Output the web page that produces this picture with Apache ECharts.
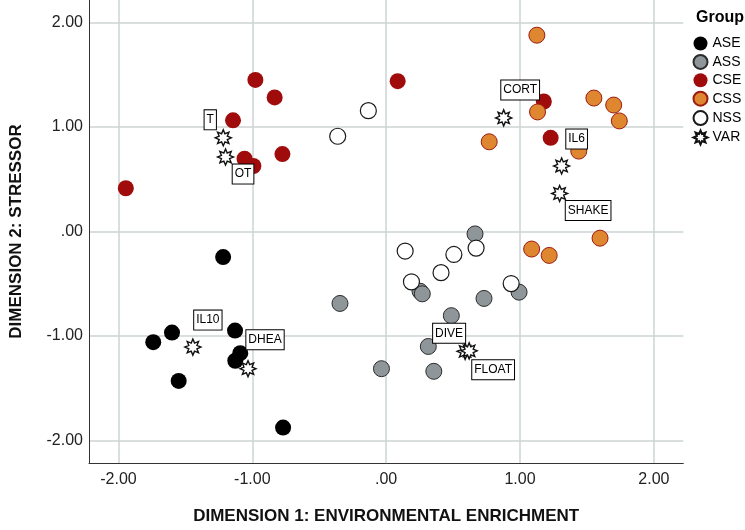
<!DOCTYPE html>
<html>
<head>
<meta charset="utf-8">
<script src="https://cdn.jsdelivr.net/npm/echarts@6/dist/echarts.min.js"></script>
<style>
html,body{margin:0;padding:0;background:#fff;}
#chart{width:745px;height:530px;}
</style>
</head>
<body>
<div id="chart"></div>
<script>
// ---- data ----
const groups = ['ASE', 'ASS', 'CSE', 'CSS', 'NSS', 'VAR'];
const tickValues = [-2, -1, 0, 1, 2];

const ase = [[-1.218,-0.245],[-1.60,-0.968],[-1.74,-1.06],[-1.129,-0.949],[-1.09,-1.165],[-1.127,-1.238],[-1.55,-1.431],[-0.77,-1.878]];
const ass = [[0.664,-0.023],[0.253,-0.572],[0.27,-0.597],[-0.345,-0.689],[0.731,-0.641],[0.993,-0.581],[0.487,-0.806],[0.315,-1.101],[-0.035,-1.314],[0.356,-1.339]];
const cse = [[-0.977,1.452],[-0.833,1.284],[-1.144,1.065],[-1.058,0.697],[-0.992,0.627],[-0.775,0.741],[0.086,1.44],[-1.945,0.414],[1.178,1.245],[1.229,0.897]];
const css = [[1.126,1.88],[1.131,1.145],[1.552,1.278],[1.70,1.211],[1.742,1.059],[0.77,0.859],[1.439,0.77],[1.598,-0.064],[1.087,-0.168],[1.218,-0.229]];
const nss = [[-0.133,1.157],[-0.362,0.912],[0.142,-0.187],[0.506,-0.22],[0.672,-0.159],[0.41,-0.394],[0.189,-0.482],[0.934,-0.499]];
const varNames = ['T','OT','CORT','IL6','SHAKE','IL10','DHEA','DIVE','FLOAT'];
const varPoints = [[-1.217,0.897],[-1.20,0.713],[0.878,1.088],[1.311,0.627],[1.296,0.364],[-1.444,-1.107],[-1.032,-1.314],[0.59,-1.148],[0.62,-1.143]];

// ---- layout / style (not data) ----
const labelOffsets = {
  T:[-13,-18], OT:[17.5,17], CORT:[16.5,-28], IL6:[15,-27], SHAKE:[28.5,17],
  IL10:[15,-27], DHEA:[17,-29], DIVE:[-16,-18], FLOAT:[24,19]
};
const FONT = 'Liberation Sans, Arial, sans-serif';
const STAR = 'path://M10,0L12.1,4.92L17.07,2.93L15.08,7.9L20,10L15.08,12.1L17.07,17.07L12.1,15.08L10,20L7.9,15.08L2.93,17.07L4.92,12.1L0,10L4.92,7.9L2.93,2.93L7.9,4.92Z';

function fmt(v){ return v === 0 ? '.00' : v.toFixed(2); }

const styles = {
  ASE:{color:'#000000', borderColor:'#000000', borderWidth:0, opacity:1},
  ASS:{color:'#8f9699', borderColor:'#2b2b2b', borderWidth:1, opacity:1},
  CSE:{color:'#a00c0c', borderColor:'#a00c0c', borderWidth:0, opacity:1},
  CSS:{color:'#de8630', borderColor:'#9c1c10', borderWidth:1, opacity:1},
  NSS:{color:'#ffffff', borderColor:'#1a1a1a', borderWidth:1.2, opacity:1}
};
const circleData = {ASE:ase, ASS:ass, CSE:cse, CSS:css, NSS:nss};

const series = ['ASE','ASS','CSE','CSS','NSS'].map(g => ({
  name:g, type:'scatter', symbol:'circle', symbolSize:16,
  itemStyle:styles[g], data:circleData[g], emphasis:{disabled:true}
}));
series.push({
  name:'VAR', type:'scatter', symbol:STAR, symbolSize:16, z:5,
  itemStyle:{color:'#ffffff', borderColor:'#111111', borderWidth:1.4, opacity:1},
  data: varPoints.map((p,i) => ({
    value:p, name:varNames[i],
    label:{offset:labelOffsets[varNames[i]]}
  })),
  label:{
    show:true, position:'inside', formatter:'{b}',
    fontFamily:FONT, fontSize:12, color:'#000', lineHeight:14,
    backgroundColor:'#ffffff', borderColor:'#000000', borderWidth:1,
    padding:[3,2,2,2]
  },
  emphasis:{disabled:true}
});

const chart = echarts.init(document.getElementById('chart'), null, {renderer:'canvas'});
chart.setOption({
  backgroundColor:'#ffffff',
  animation:false,
  title:{
    text:'Group', left:691, top:5,
    textStyle:{fontFamily:FONT, fontSize:16, fontWeight:'bold', color:'#000'}
  },
  legend:{
    orient:'vertical', left:692.5, top:36.5, padding:0,
    itemWidth:14, itemHeight:14, itemGap:3.4,
    data:groups,
    textStyle:{fontFamily:FONT, fontSize:14, lineHeight:13, color:'#000'},
    selectedMode:false
  },
  grid:{left:81.7, right:61.7, top:0, bottom:64, containLabel:false},
  xAxis:{
    type:'value', min:-2.22, max:2.22,
    name:'DIMENSION 1: ENVIRONMENTAL ENRICHMENT', nameLocation:'middle', nameGap:45,
    nameTextStyle:{fontFamily:FONT, fontSize:17, fontWeight:'bold', color:'#111'},
    axisLine:{show:true, onZero:false, lineStyle:{color:'#333', width:1}},
    axisTick:{show:false},
    axisLabel:{fontFamily:FONT, fontSize:16, color:'#222', margin:9, formatter:fmt,
      showMinLabel:false, showMaxLabel:false},
    splitLine:{show:true, showMinLine:false, showMaxLine:false, lineStyle:{color:'#cdd4d4', width:1.5}}
  },
  yAxis:{
    type:'value', min:-2.217, max:2.217,
    name:'DIMENSION 2: STRESSOR', nameLocation:'middle', nameGap:64,
    nameTextStyle:{fontFamily:FONT, fontSize:17, fontWeight:'bold', color:'#111'},
    axisLine:{show:true, onZero:false, lineStyle:{color:'#333', width:1}},
    axisTick:{show:false},
    axisLabel:{fontFamily:FONT, fontSize:16, color:'#222', margin:6, formatter:fmt,
      showMinLabel:false, showMaxLabel:false},
    splitLine:{show:true, showMinLine:false, showMaxLine:false, lineStyle:{color:'#cdd4d4', width:1.5}}
  },
  series:series
});
</script>
</body>
</html>
